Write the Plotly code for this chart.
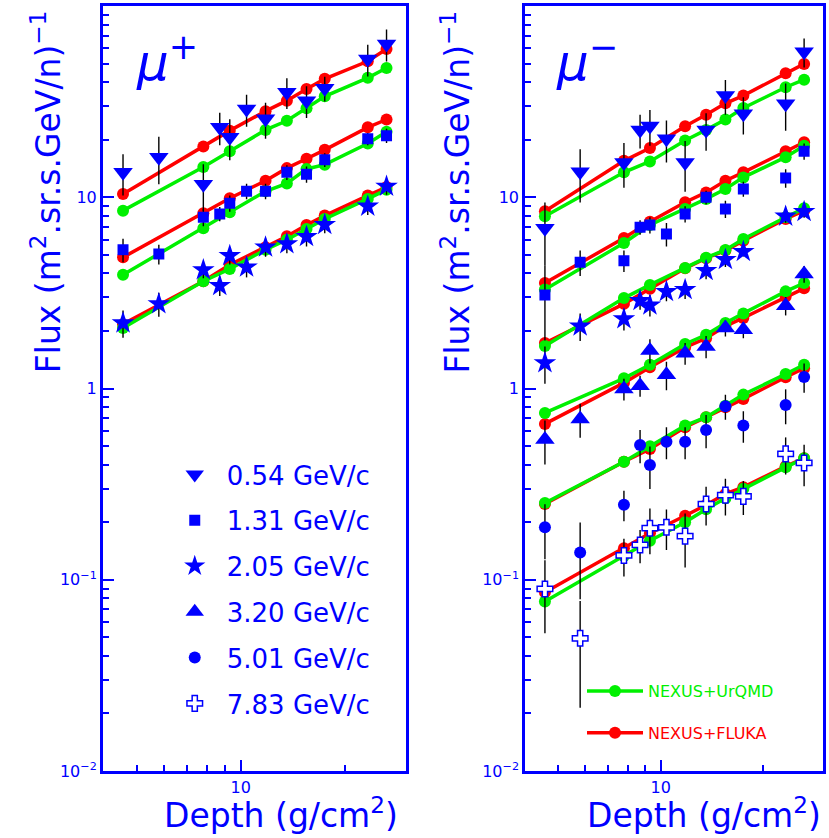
import numpy as np
import plotly.graph_objects as go

# ---------------------------------------------------------------- data
# atmospheric depths (g/cm^2) of the measurements and of the simulations
depth = [4.57, 5.8, 7.8, 8.7, 9.3, 10.4, 11.8, 13.6, 15.5, 17.5, 23.3, 26.4]
model_depth = [4.57, 7.8, 9.3, 11.8, 13.6, 15.5, 17.5, 23.3, 26.4]

momenta = ["0.54", "1.31", "2.05", "3.20", "5.01", "7.83"]

# mu+ measured flux and errors
mup_054 = [13.5, 16.2, 11.7, 23.2, 20.6, 28.9, 25.7, 35.4, 32.0, 37.2, 52.8, 63.3]
mup_054_err = [3.3, 4.5, 3.2, 4.5, 5.0, 5.5, 5.5, 6.5, 6.0, 5.5, 10.0, 12.0]
mup_131 = [5.32, 5.05, 7.86, 8.18, 9.3, 10.75, 10.75, 13.5, 13.2, 15.7, 20.2, 21.0]
mup_131_err = [0.75, 0.6, 0.8, 0.7, 0.9, 1.0, 1.0, 1.2, 1.3, 1.3, 1.5, 1.8]
mup_205 = [2.2, 2.77, 4.17, 3.45, 4.95, 4.31, 5.48, 5.70, 6.22, 7.19, 8.97, 11.4]
mup_205_err = [0.36, 0.4, 0.4, 0.4, 0.5, 0.5, 0.6, 0.6, 0.7, 0.7, 0.9, 1.1]

# mu+ simulations
mup_fluka_054 = [10.4, 18.4, 22.3, 28.2, 32.0, 36.8, 41.6, 51.4, 59.6]
mup_urqmd_054 = [8.51, 14.4, 17.4, 22.5, 25.1, 29.2, 33.7, 42.1, 47.4]
mup_fluka_131 = [4.85, 8.24, 9.88, 12.2, 14.2, 15.9, 17.7, 23.2, 25.5]
mup_urqmd_131 = [3.93, 6.89, 8.35, 10.75, 11.8, 14.06, 14.8, 19.1, 22.0]
mup_fluka_205 = [2.17, 3.64, 4.43, 5.48, 6.25, 7.16, 8.02, 10.2, 11.3]
mup_urqmd_205 = [2.07, 3.64, 4.22, 5.32, 6.0, 6.82, 7.70, 9.8, 10.96]

# mu- measured flux and errors
mum_054 = [6.89, 13.6, 15.2, 22.5, 23.6, 20.2, 15.2, 22.5, 34.0, 27.3, 30.8, 57.7]
mum_054_err = [2.5, 4.2, 4.0, 4.5, 5.0, 5.0, 4.5, 5.0, 7.0, 6.0, 8.5, 10.0]
mum_131 = [3.08, 4.57, 4.66, 6.97, 7.16, 6.43, 8.18, 10.0, 8.69, 11.05, 12.6, 17.4]
mum_131_err = [1.3, 0.7, 0.6, 0.6, 0.7, 0.9, 0.8, 0.8, 0.9, 1.0, 1.4, 1.7]
mum_205 = [1.36, 2.12, 2.31, 2.88, 2.73, 3.21, 3.29, 4.13, 4.72, 5.2, 7.95, 8.41]
mum_205_err = [0.3, 0.35, 0.3, 0.3, 0.35, 0.35, 0.35, 0.4, 0.4, 0.3, 0.6, 0.6]
mum_320 = [0.541, 0.693, 0.995, 1.035, 1.58, 1.18, 1.53, 1.66, 2.07, 2.03, 2.71, 3.97]
mum_320_err = [0.14, 0.14, 0.13, 0.13, 0.23, 0.2, 0.2, 0.22, 0.2, 0.2, 0.3, 0.4]
mum_501 = [0.188, 0.139, 0.247, 0.506, 0.398, 0.527, 0.527, 0.607, 0.807, 0.64, 0.82, 1.15]
mum_501_err = [0.06, 0.06, 0.045, 0.1, 0.1, 0.1, 0.1, 0.12, 0.12, 0.12, 0.17, 0.2]
mum_783 = [0.0895, 0.0494, 0.134, 0.152, 0.186, 0.188, 0.169, 0.249, 0.277, 0.273, 0.455, 0.408]
mum_783_err = [0.037, 0.028, 0.03, 0.03, 0.05, 0.045, 0.053, 0.057, 0.06, 0.055, 0.1, 0.1]

# mu- simulations
mum_fluka_054 = [8.45, 15.5, 18.1, 23.5, 27.0, 31.0, 34.0, 44.5, 49.8]
mum_urqmd_054 = [7.95, 13.5, 15.4, 19.8, 22.5, 25.5, 29.3, 37.6, 41.2]
mum_fluka_131 = [3.56, 6.12, 7.45, 9.42, 10.6, 12.2, 13.5, 17.4, 19.4]
mum_urqmd_131 = [3.29, 5.77, 7.16, 8.69, 9.8, 11.05, 12.7, 16.2, 18.6]
mum_fluka_205 = [1.73, 2.77, 3.32, 4.25, 4.8, 5.26, 5.93, 7.70, 8.51]
mum_urqmd_205 = [1.67, 2.97, 3.48, 4.27, 4.83, 5.3, 6.05, 7.86, 8.75]
mum_fluka_320 = [0.653, 1.07, 1.29, 1.64, 1.83, 2.12, 2.34, 3.02, 3.34]
mum_urqmd_320 = [0.745, 1.13, 1.33, 1.71, 1.91, 2.20, 2.47, 3.22, 3.56]
mum_fluka_501 = [0.249, 0.414, 0.483, 0.627, 0.708, 0.798, 0.882, 1.145, 1.276]
mum_urqmd_501 = [0.252, 0.414, 0.499, 0.64, 0.708, 0.813, 0.929, 1.19, 1.33]
mum_fluka_783 = [0.0861, 0.146, 0.175, 0.216, 0.246, 0.281, 0.305, 0.392, 0.432]
mum_urqmd_783 = [0.0769, 0.133, 0.160, 0.200, 0.234, 0.267, 0.299, 0.387, 0.432]

# ---------------------------------------------------------------- style
BLUE = "#0000ff"
RED = "#ff0000"
GREEN = "#00f000"
FONT = "DejaVu Sans"

symbols = {
    "0.54": dict(symbol="triangle-down", size=17, color=BLUE),
    "1.31": dict(symbol="square", size=11, color=BLUE),
    "2.05": dict(symbol="star", size=17, color=BLUE),
    "3.20": dict(symbol="triangle-up", size=17, color=BLUE),
    "5.01": dict(symbol="circle", size=12, color=BLUE),
    "7.83": dict(symbol="cross", size=13, color="white",
                 line=dict(color=BLUE, width=1.5)),
}

plus_data = {"0.54": (mup_054, mup_054_err), "1.31": (mup_131, mup_131_err),
             "2.05": (mup_205, mup_205_err)}
minus_data = {"0.54": (mum_054, mum_054_err), "1.31": (mum_131, mum_131_err),
              "2.05": (mum_205, mum_205_err), "3.20": (mum_320, mum_320_err),
              "5.01": (mum_501, mum_501_err), "7.83": (mum_783, mum_783_err)}
plus_models = [(mup_fluka_054, mup_urqmd_054), (mup_fluka_131, mup_urqmd_131),
               (mup_fluka_205, mup_urqmd_205)]
minus_models = [(mum_fluka_054, mum_urqmd_054), (mum_fluka_131, mum_urqmd_131),
                (mum_fluka_205, mum_urqmd_205), (mum_fluka_320, mum_urqmd_320),
                (mum_fluka_501, mum_urqmd_501), (mum_fluka_783, mum_urqmd_783)]

fig = go.Figure()

legend_shown = {"fluka": False, "urqmd": False}


def add_models(models, xa, ya):
    for fl, ur in models:
        for key, vals, col, label in (("fluka", fl, RED, "NEXUS+FLUKA"),
                                      ("urqmd", ur, GREEN, "NEXUS+UrQMD")):
            fig.add_trace(go.Scatter(
                x=model_depth, y=vals, xaxis=xa, yaxis=ya, mode="lines+markers",
                line=dict(color=col, width=3.5),
                marker=dict(symbol="circle", size=12, color=col),
                name=f"<span style='color:{col}'>{label}</span>",
                legend="legend2", legendgroup=key,
                legendrank=1 if key == "urqmd" else 2,
                showlegend=not legend_shown[key]))
            legend_shown[key] = True


add_models(plus_models, "x", "y")
add_models(minus_models, "x2", "y2")

shown = set()


def add_data(data, xa, ya):
    for p, (vals, errs) in data.items():
        fig.add_trace(go.Scatter(
            x=depth, y=vals, xaxis=xa, yaxis=ya, mode="markers",
            marker=symbols[p],
            error_y=dict(type="data", array=errs, color="black",
                         thickness=1.4, width=0),
            name=f"{p} GeV/c", legend="legend", legendgroup=p,
            legendrank=momenta.index(p) + 1,
            showlegend=p not in shown))
        shown.add(p)


add_data(plus_data, "x", "y")
add_data(minus_data, "x2", "y2")

# ---------------------------------------------------------------- axes
ymajor = [0.01, 0.1, 1, 10]
ymajor_text = ["10<sup>−2</sup>", "10<sup>−1</sup>", "1", "10"]
yminor = [k * 10.0 ** d for d in range(-2, 2) for k in range(2, 10)]
xmajor = [10]
xmajor_text = ["10"]
xminor = [5, 6, 7, 8, 9, 20]

xcommon = dict(type="log", range=[np.log10(4), np.log10(30)],
               tickvals=xmajor, ticktext=xmajor_text,
               ticks="inside", ticklen=11, tickwidth=1.5, tickcolor=BLUE,
               minor=dict(tickvals=xminor, ticks="inside", ticklen=6,
                          tickwidth=1.5, tickcolor=BLUE, showgrid=False),
               showline=True, linecolor=BLUE, linewidth=3, mirror=True,
               showgrid=False, zeroline=False,
               tickfont=dict(family=FONT, size=16, color=BLUE))
ycommon = dict(type="log", range=[-2, 2], domain=[0, 1],
               tickvals=ymajor, ticktext=ymajor_text,
               ticks="inside", ticklen=11, tickwidth=1.5, tickcolor=BLUE,
               minor=dict(tickvals=yminor, ticks="inside", ticklen=6,
                          tickwidth=1.5, tickcolor=BLUE, showgrid=False),
               showline=True, linecolor=BLUE, linewidth=3, mirror=True,
               showgrid=False, zeroline=False,
               tickfont=dict(family=FONT, size=16, color=BLUE))

L, R, T, B = 103, 3, 6, 67
W, H = 829, 838
PW, PH = W - L - R, H - T - B


def px(xp):
    return (xp - L) / PW


def py(yp):
    return 1 - (yp - T) / PH


fig.update_layout(
    width=W, height=H,
    margin=dict(l=L, r=R, t=T, b=B),
    paper_bgcolor="white", plot_bgcolor="white",
    xaxis=dict(xcommon, domain=[0, px(407)], anchor="y"),
    yaxis=dict(ycommon, anchor="x"),
    xaxis2=dict(xcommon, domain=[px(527), 1], anchor="y2"),
    yaxis2=dict(ycommon, anchor="x2"),
    legend=dict(x=px(163), y=py(451), xanchor="left", yanchor="top",
                bgcolor="rgba(0,0,0,0)", itemwidth=54,
                font=dict(family=FONT, size=26, color=BLUE),
                tracegroupgap=9, traceorder="grouped"),
    legend2=dict(x=px(584), y=py(674), xanchor="left", yanchor="top",
                 bgcolor="rgba(0,0,0,0)", itemwidth=56,
                 font=dict(family=FONT, size=16),
                 tracegroupgap=18, traceorder="grouped"),
    showlegend=True,
)

title_font = dict(family=FONT, size=33, color=BLUE)
annotations = [
    dict(text="Depth (g/cm<sup>2</sup>)", x=px(401), y=py(813),
         xanchor="right", yanchor="middle"),
    dict(text="Depth (g/cm<sup>2</sup>)", x=px(826), y=py(813),
         xanchor="right", yanchor="middle"),
    dict(text="Flux (m<sup>2</sup>.sr.s.GeV/n)<sup>−1</sup>", x=px(46),
         y=py(192), textangle=-90, xanchor="center", yanchor="middle"),
    dict(text="Flux (m<sup>2</sup>.sr.s.GeV/n)<sup>−1</sup>", x=px(457),
         y=py(192), textangle=-90, xanchor="center", yanchor="middle"),
]
for a in annotations:
    fig.add_annotation(xref="paper", yref="paper", showarrow=False,
                       font=title_font, **a)

for label, xl in (("+", 134), ("−", 556)):
    fig.add_annotation(xref="paper", yref="paper", showarrow=False,
                       text=f"<i>μ</i><sup>{label}</sup>", x=px(xl), y=py(60),
                       xanchor="left", yanchor="middle",
                       font=dict(family=FONT, size=50, color=BLUE))

fig.write_html("out.html")
